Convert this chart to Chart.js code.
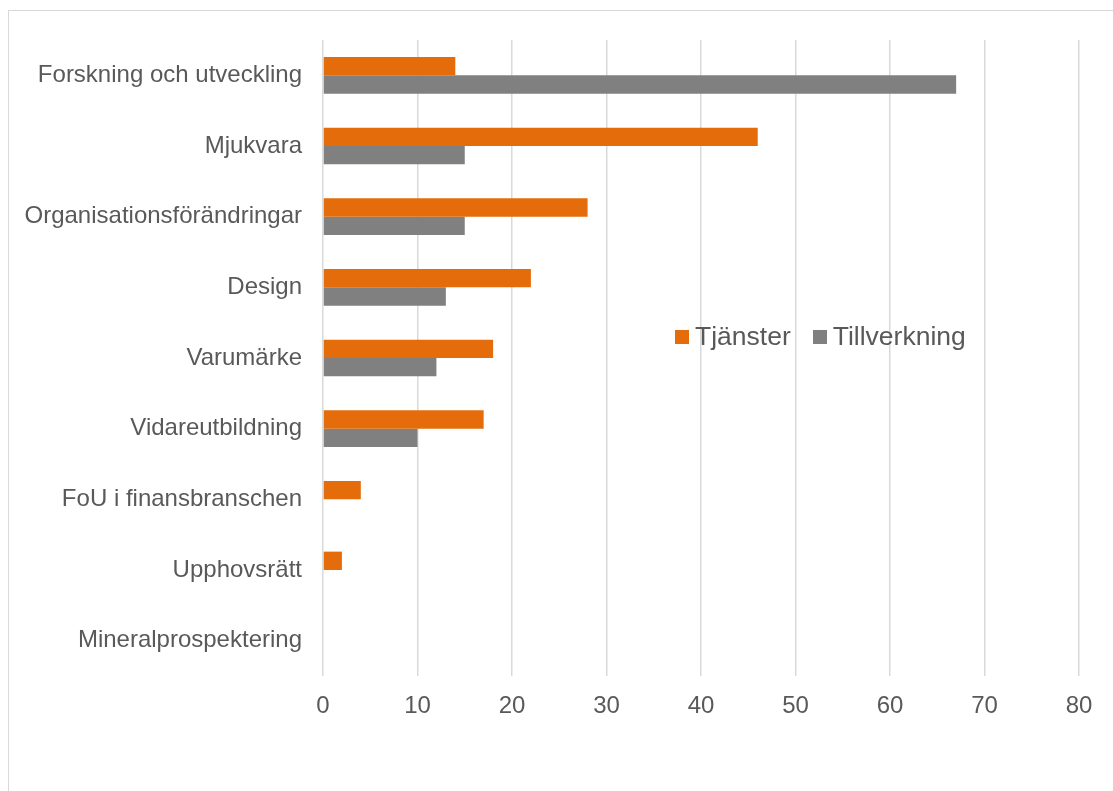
<!DOCTYPE html>
<html>
<head>
<meta charset="utf-8">
<script src="https://cdn.jsdelivr.net/npm/chart.js@4"></script>
<style>
  html, body { margin: 0; padding: 0; background: #fff; }
  #wrap { position: relative; width: 1113px; height: 791px; overflow: hidden; }
  #frame { position: absolute; left: 8px; top: 10px; width: 1200px; height: 900px; border: 1px solid #d9d9d9; box-sizing: border-box; }
  #myChart { position: absolute; left: 0; top: 0; }
  #legend { position: absolute; left: 675px; top: 321px; font-family: "Liberation Sans", Arial, sans-serif; font-size: 26.5px; color: #595959; white-space: nowrap; }
  #legend span.item { display: inline-block; margin-right: 22px; }
  #legend span.box { display: inline-block; width: 14px; height: 14px; margin-right: 6px; vertical-align: 1px; }
</style>
</head>
<body>
<div id="wrap">
  <div id="frame"></div>
  <canvas id="myChart" width="1113" height="791"></canvas>
  <div id="legend"></div>
</div>
<script>
var categories = ["Forskning och utveckling", "Mjukvara", "Organisationsförändringar", "Design",
                  "Varumärke", "Vidareutbildning", "FoU i finansbranschen", "Upphovsrätt", "Mineralprospektering"];
var tjanster = [14, 46, 28, 22, 18, 17, 4, 2, 0];
var tillverkning = [67, 15, 15, 13, 12, 10, 0, 0, 0];
var seriesNames = ["Tjänster", "Tillverkning"];
var seriesColors = ["#E46C0A", "#808080"];
var xTicks = [0, 10, 20, 30, 40, 50, 60, 70, 80];

var fontFamily = '"Liberation Sans", Arial, sans-serif';
var ctx_live = document.getElementById("myChart");

var myChart = new Chart(ctx_live, {
  type: "bar",
  data: {
    labels: categories,
    datasets: [
      { label: seriesNames[0], data: tjanster, backgroundColor: seriesColors[0] },
      { label: seriesNames[1], data: tillverkning, backgroundColor: seriesColors[1] }
    ]
  },
  options: {
    indexAxis: "y",
    responsive: false,
    animation: false,
    events: [],
    layout: { padding: { left: 0, right: 34, top: 40, bottom: 65 } },
    datasets: { bar: { categoryPercentage: 0.52, barPercentage: 1.0 } },
    plugins: { legend: { display: false }, tooltip: { enabled: false } },
    scales: {
      x: {
        min: 0,
        max: 80,
        afterBuildTicks: function (scale) {
          scale.ticks = xTicks.map(function (v) { return { value: v }; });
        },
        afterFit: function (scale) { scale.height = 50; },
        grid: { color: "#d9d9d9", lineWidth: 1.5, drawTicks: false },
        border: { display: false },
        ticks: { color: "#595959", padding: 16, font: { family: fontFamily, size: 24 } }
      },
      y: {
        afterFit: function (scale) { scale.width = 323; },
        grid: { display: false, drawTicks: false },
        border: { display: false },
        ticks: { color: "#595959", padding: 21, font: { family: fontFamily, size: 24 } }
      }
    }
  }
});

// legend built from the datasets
var legendDiv = document.getElementById("legend");
myChart.data.datasets.forEach(function (ds) {
  var item = document.createElement("span");
  item.className = "item";
  var box = document.createElement("span");
  box.className = "box";
  box.style.background = ds.backgroundColor;
  item.appendChild(box);
  item.appendChild(document.createTextNode(ds.label));
  legendDiv.appendChild(item);
});
</script>
</body>
</html>
